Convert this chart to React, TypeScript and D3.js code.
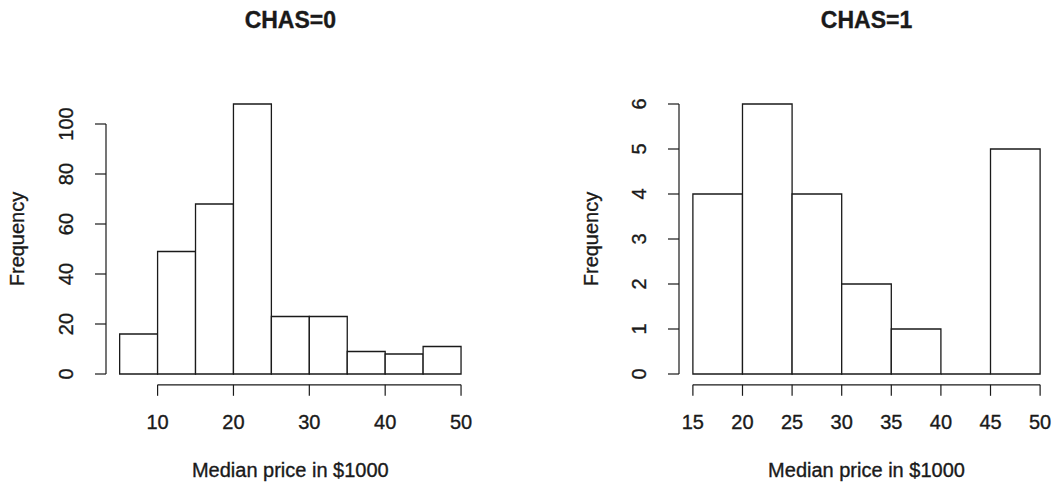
import React from "react";
import * as d3 from "d3";

const leftBreaks = [5, 10, 15, 20, 25, 30, 35, 40, 45, 50];
const leftCounts = [16, 49, 68, 108, 23, 23, 9, 8, 11];
const leftXTicks = [10, 20, 30, 40, 50];
const leftYTicks = [0, 20, 40, 60, 80, 100];

const rightBreaks = [15, 20, 25, 30, 35, 40, 45, 50];
const rightCounts = [4, 6, 4, 2, 1, 0, 5];
const rightXTicks = [15, 20, 25, 30, 35, 40, 45, 50];
const rightYTicks = [0, 1, 2, 3, 4, 5, 6];

const titles = ["CHAS=0", "CHAS=1"];
const xLabel = "Median price in $1000";
const yLabel = "Frequency";

const FONT = "'Liberation Sans', Arial, Helvetica, sans-serif";
const INK = "#1a1a1a";
const TEXT_STROKE = 0.35;

type PanelProps = {
  title: string;
  breaks: number[];
  counts: number[];
  xTicks: number[];
  yTicks: number[];
  left: number;
  right: number;
  yLabelX: number;
};

function Panel({ title, breaks, counts, xTicks, yTicks, left, right, yLabelX }: PanelProps) {
  const top = 93.2;
  const bottom = 384.8;
  const xmin = breaks[0];
  const xmax = breaks[breaks.length - 1];
  const xr = xmax - xmin;
  const ymax = d3.max(counts) as number;
  const x = d3.scaleLinear().domain([xmin - 0.04 * xr, xmax + 0.04 * xr]).range([left, right]);
  const y = d3.scaleLinear().domain([-0.04 * ymax, ymax * 1.04]).range([bottom, top]);
  const cx = (left + right) / 2;
  const cy = (top + bottom) / 2;
  const tickLen = 11;
  const textProps = { fontFamily: FONT, fill: INK, stroke: INK, strokeWidth: TEXT_STROKE };
  return (
    <g>
      <text x={cx} y={28} textAnchor="middle" fontWeight="bold" fontSize={23} {...textProps}>
        {title}
      </text>
      {counts.map((c, i) => {
        const p = d3.path();
        const x0 = x(breaks[i]);
        const x1 = x(breaks[i + 1]);
        p.moveTo(x0, y(0));
        p.lineTo(x0, y(c));
        p.lineTo(x1, y(c));
        p.lineTo(x1, y(0));
        p.closePath();
        return <path key={i} d={p.toString()} fill="white" stroke={INK} strokeWidth={1.3} />;
      })}
      {/* x axis */}
      <line x1={x(xTicks[0])} x2={x(xTicks[xTicks.length - 1])} y1={bottom} y2={bottom} stroke={INK} strokeWidth={1.2} />
      {xTicks.map((t) => (
        <g key={"xt" + t}>
          <line x1={x(t)} x2={x(t)} y1={bottom} y2={bottom + tickLen} stroke={INK} strokeWidth={1.2} />
          <text x={x(t)} y={429} textAnchor="middle" fontSize={20} {...textProps}>
            {t}
          </text>
        </g>
      ))}
      {/* y axis */}
      <line x1={left} x2={left} y1={y(yTicks[0])} y2={y(yTicks[yTicks.length - 1])} stroke={INK} strokeWidth={1.2} />
      {yTicks.map((t) => (
        <g key={"yt" + t}>
          <line x1={left} x2={left - tickLen} y1={y(t)} y2={y(t)} stroke={INK} strokeWidth={1.2} />
          <text
            transform={`translate(${left - 33},${y(t)}) rotate(-90)`}
            textAnchor="middle"
            fontSize={20}
            {...textProps}
          >
            {t}
          </text>
        </g>
      ))}
      <text x={cx} y={477} textAnchor="middle" fontSize={20} {...textProps}>
        {xLabel}
      </text>
      <text
        transform={`translate(${yLabelX},${cy}) rotate(-90)`}
        textAnchor="middle"
        fontSize={20}
        {...textProps}
      >
        {yLabel}
      </text>
    </g>
  );
}

export default function App() {
  return (
    <svg
      width={1057}
      height={487}
      style={{ position: "absolute", left: 0, top: 0, background: "white" }}
    >
      <rect x={0} y={0} width={1057} height={487} fill="white" />
      <Panel
        title={titles[0]}
        breaks={leftBreaks}
        counts={leftCounts}
        xTicks={leftXTicks}
        yTicks={leftYTicks}
        left={106}
        right={474.7}
        yLabelX={24}
      />
      <Panel
        title={titles[1]}
        breaks={rightBreaks}
        counts={rightCounts}
        xTicks={rightXTicks}
        yTicks={rightYTicks}
        left={679}
        right={1054}
        yLabelX={598}
      />
    </svg>
  );
}
